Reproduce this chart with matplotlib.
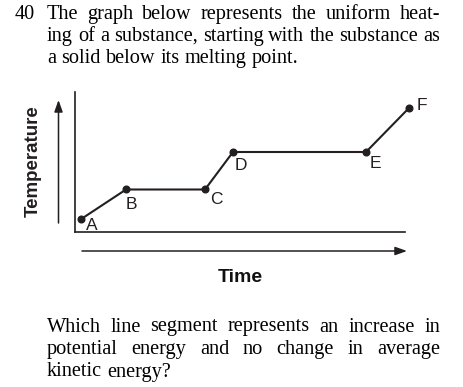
import matplotlib
matplotlib.use('Agg')
import matplotlib.pyplot as plt

# heating curve points (time, temperature) in arbitrary units
time_pts = [6, 51.5, 130.5, 158.5, 291.5, 334.5]
temp_pts = [13, 43, 43, 80.5, 80.5, 124.5]
point_labels = ['A', 'B', 'C', 'D', 'E', 'F']
# label offsets from each point, in points
label_offsets = [(8, -4), (4, -11), (8, -7.5), (6, -10), (6.5, -8.5), (9.5, 1.5)]

question_no = '40'
intro_lines = ['The graph below represents the uniform heat-',
               'ing of a substance, starting with the substance as',
               'a solid below its melting point.']
ask_lines = ['Which line segment represents an increase in',
             'potential energy and no change in average',
             'kinetic energy?']

W, H = 464, 387
ink = '#231f20'
serif = 'Liberation Serif'
sans = 'Liberation Sans'

fig = plt.figure(figsize=(W / 100, H / 100), dpi=100)
fig.patch.set_facecolor('white')

# graph area: left spine at x=74.5px, bottom spine at y=232.5px
ax = fig.add_axes([74.5 / W, 1 - 232.5 / H, 330.5 / W, 140.5 / H])
ax.set_xlim(0, 330.5)
ax.set_ylim(0, 140.5)
for s in ['top', 'right']:
    ax.spines[s].set_visible(False)
for s in ['left', 'bottom']:
    ax.spines[s].set_linewidth(1.2)
    ax.spines[s].set_color(ink)
ax.set_xticks([])
ax.set_yticks([])
ax.patch.set_alpha(0)

ax.plot(time_pts, temp_pts, color=ink, lw=1.5, marker='o', ms=4.8,
        clip_on=False, solid_joinstyle='round')
for x, y, lab, (dx, dy) in zip(time_pts, temp_pts, point_labels, label_offsets):
    ax.annotate(lab, (x, y), xytext=(dx, dy), textcoords='offset points',
                ha='center', va='center', fontsize=12.5, family=sans, color=ink,
                annotation_clip=False)

# axis arrows
head = '-|>,head_length=0.7,head_width=0.25'
fig.add_artist(matplotlib.patches.FancyArrowPatch(
    (58.5 / W, 1 - 223 / H), (58.5 / W, 1 - 100 / H),
    transform=fig.transFigure, mutation_scale=10,
    arrowstyle=head, color=ink, lw=1.1, shrinkA=0, shrinkB=0))
fig.add_artist(matplotlib.patches.FancyArrowPatch(
    (82 / W, 1 - 251 / H), (407 / W, 1 - 251 / H),
    transform=fig.transFigure, mutation_scale=10,
    arrowstyle=head, color=ink, lw=1.1, shrinkA=0, shrinkB=0))

fig.text(33 / W, 1 - 161 / H, 'Temperature', rotation=90, ha='center',
         va='center', fontsize=13.5, fontweight='bold', family=sans, color=ink)
fig.text(240 / W, 1 - 277 / H, 'Time', ha='center', va='center',
         fontsize=14, fontweight='bold', family=sans, color='#111111')

renderer = fig.canvas.get_renderer()
text_size = 14.6


def put_line(line, x0, x1, y, last=False):
    words = line.split(' ')
    texts = [fig.text(0, 1 - y / H, w, fontsize=text_size, family=serif,
                      color='black', va='baseline', ha='left') for w in words]
    widths = [t.get_window_extent(renderer).width for t in texts]
    if last or len(words) == 1:
        gap = text_size * 0.25 * 100 / 72
    else:
        gap = (x1 - x0 - sum(widths)) / (len(words) - 1)
    x = x0
    for t, w in zip(texts, widths):
        t.set_x(x / W)
        x += w + gap


fig.text(15 / W, 1 - 19 / H, question_no, fontsize=text_size, family=serif,
         color='black', va='baseline', ha='left')
for i, line in enumerate(intro_lines):
    put_line(line, 47, 440, 19 + 22 * i, last=(i == len(intro_lines) - 1))
for i, line in enumerate(ask_lines):
    put_line(line, 47, 440, 331.5 + 22.5 * i, last=(i == len(ask_lines) - 1))

fig.savefig('out.png', dpi=100, facecolor='white')
